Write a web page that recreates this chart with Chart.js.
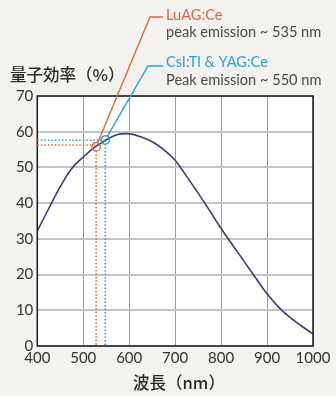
<!DOCTYPE html>
<html><head><meta charset="utf-8">
<script src="https://cdn.jsdelivr.net/npm/chart.js@4/dist/chart.umd.min.js"></script>
<style>html,body{margin:0;padding:0;background:#f4f2ee;}#wrap{width:336px;height:396px;position:relative;}</style>
</head><body><div id="wrap"><canvas id="c" width="336" height="396"></canvas></div>
<script>
const wavelengths = [400,425,450,475,500,525,550,575,600,625,650,675,700,725,750,775,800,825,850,875,900,925,950,975,1000];
const efficiency = [32.2,38.5,44.6,49.7,52.9,55.7,57.7,59.2,59.4,58.6,57.2,55.0,52.0,47.5,42.8,37.9,32.9,28.3,23.7,19.1,14.6,10.9,8.0,5.6,3.4];
const yTicks = [0,10,20,30,40,50,60,70];
const xTicks = [400,500,600,700,800,900,1000];
const markers = [
  {name:'LuAG:Ce', note:'peak emission ~ 535 nm', x:528, y:55.8, hy:56.3},
  {name:'CsI:Tl & YAG:Ce', note:'Peak emission ~ 550 nm', x:548, y:57.7, hy:57.6}
];
const yTitle = '量子効率（%）';
const xTitle = '波長（nm）';

const colors = ['#d9683a','#2b9fd0'];
const labelPos = [{lx:150,ly:17,tx:166,t1:15,t2:32},{lx:148,ly:66,tx:166,t1:62,t2:80}];

const overlay = {
  id:'overlay',
  beforeDraw(chart){
    const {ctx, chartArea:a} = chart;
    ctx.save();
    ctx.fillStyle='#f4f2ee';ctx.fillRect(0,0,chart.width,chart.height);
    ctx.fillStyle='#ffffff';ctx.fillRect(a.left,a.top,a.right-a.left,a.bottom-a.top);
    ctx.restore();
  },
  afterDatasetsDraw(chart){
    const {ctx, chartArea:a, scales:{x,y}} = chart;
    ctx.save();
    ctx.strokeStyle='#1a1a1a';ctx.lineWidth=1.5;
    ctx.strokeRect(a.left,a.top,a.right-a.left,a.bottom-a.top);
    markers.forEach((m,i)=>{
      const px=x.getPixelForValue(m.x), py=y.getPixelForValue(m.y), hy=y.getPixelForValue(m.hy);
      ctx.strokeStyle=colors[i];
      ctx.lineWidth=1.6;
      ctx.setLineDash([1.5,2]);
      ctx.beginPath();ctx.moveTo(a.left,hy);ctx.lineTo(px,hy);ctx.stroke();
      ctx.beginPath();ctx.moveTo(px,py+4);ctx.lineTo(px,a.bottom);ctx.stroke();
      ctx.setLineDash([]);
      ctx.lineWidth=1.4;
      ctx.beginPath();ctx.arc(px,py,4.2,0,Math.PI*2);ctx.stroke();
      const L=labelPos[i];
      const ang=Math.atan2(L.ly-py,L.lx-px);
      ctx.beginPath();ctx.moveTo(px+4.2*Math.cos(ang),py+4.2*Math.sin(ang));ctx.lineTo(L.lx,L.ly);ctx.lineTo(L.tx-3,L.ly);ctx.stroke();
      ctx.textBaseline='middle';ctx.textAlign='left';
      ctx.font='14.6px Lato, "Noto Sans", sans-serif';
      ctx.fillStyle=colors[i];ctx.fillText(m.name,L.tx,L.t1);
      ctx.fillStyle='#4a4a4a';ctx.fillText(m.note,L.tx,L.t2);
    });
    ctx.fillStyle='#2a2a2a';
    ctx.font='500 16.5px "Noto Sans CJK JP", sans-serif';
    ctx.textAlign='left';ctx.textBaseline='middle';
    ctx.fillText(yTitle,10,75);
    ctx.textAlign='center';
    ctx.fillText(xTitle,179,383);
    ctx.restore();
  }
};

new Chart(document.getElementById('c'),{
  type:'line',
  data:{datasets:[{data:wavelengths.map((w,i)=>({x:w,y:efficiency[i]})),borderColor:'#3b3784',borderWidth:1.6,pointRadius:0,tension:0.4,fill:false}]},
  options:{
    responsive:false,animation:false,devicePixelRatio:1,
    layout:{padding:{top:96,right:23,left:0,bottom:0}},
    plugins:{legend:{display:false},tooltip:{enabled:false}},
    scales:{
      x:{type:'linear',min:400,max:1000,
        afterBuildTicks(s){s.ticks=xTicks.map(v=>({value:v}));},
        afterFit(s){s.height=50;},
        grid:{color:'#9a9a9a',lineWidth:1,drawTicks:false},border:{display:false},
        ticks:{padding:3,color:'#333',font:{family:'Lato',size:15},maxRotation:0,callback:v=>String(v)}},
      y:{min:0,max:70,
        afterBuildTicks(s){s.ticks=yTicks.map(v=>({value:v}));},
        afterFit(s){s.width=37.3;},
        grid:{color:'#c4c4c4',lineWidth:2,drawTicks:false},border:{display:false},
        ticks:{padding:4,color:'#333',font:{family:'Lato',size:15},callback:v=>String(v)}}
    }
  },
  plugins:[overlay]
});
</script></body></html>
